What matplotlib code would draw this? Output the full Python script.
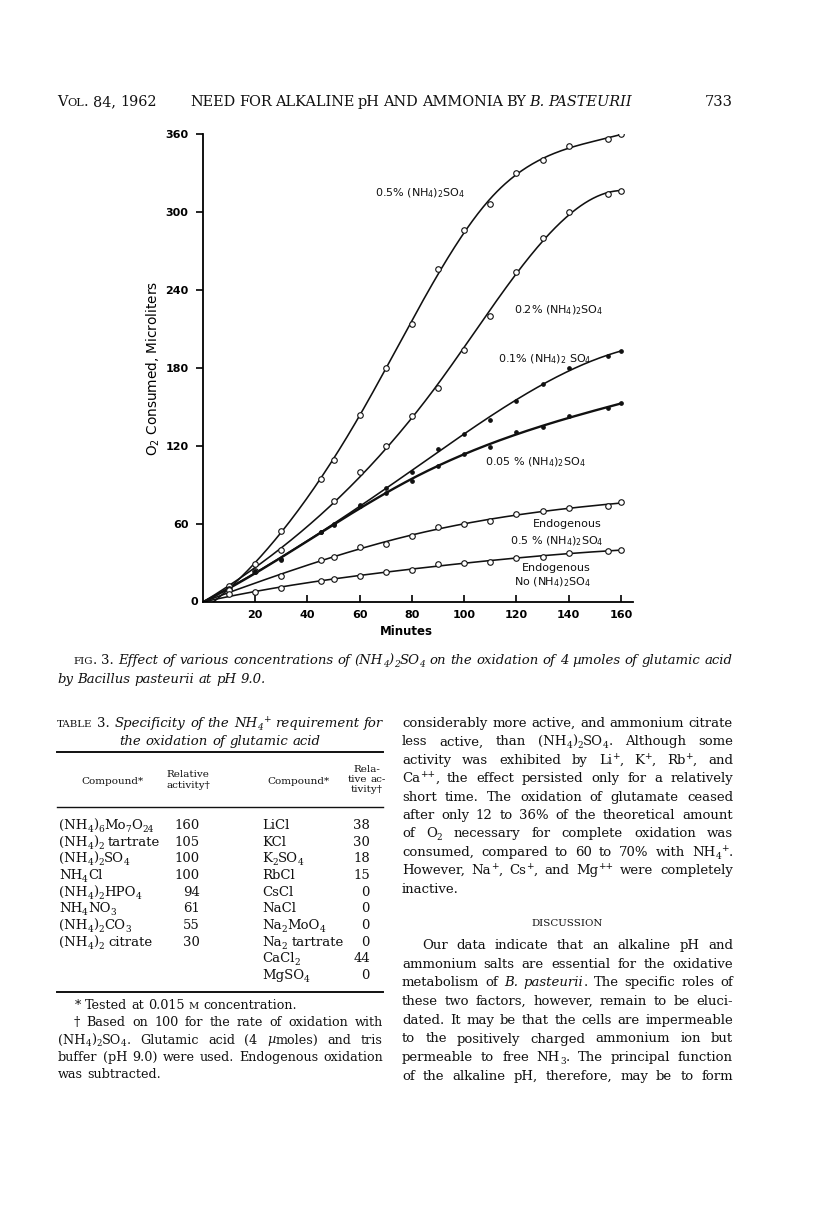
import numpy as np
import matplotlib
matplotlib.use("Agg")
import matplotlib.pyplot as plt
from matplotlib.lines import Line2D

W, H = 816, 1231
SERIF = "DejaVu Serif"
SANS = "DejaVu Sans"

# ---- Fig. 3: O2 consumed (microliters) against minutes ----
min_05 = [10, 20, 30, 45, 50, 60, 70, 80, 90, 100, 110, 120, 130, 140, 155, 160]
o2_05 = [12, 29, 55, 95, 109, 144, 180, 214, 256, 286, 306, 330, 340, 351, 356, 360]
min_02 = [10, 20, 30, 50, 60, 70, 80, 90, 100, 110, 120, 130, 140, 155, 160]
o2_02 = [10, 24, 40, 78, 100, 120, 143, 165, 194, 220, 254, 280, 300, 314, 316]
min_01 = [10, 20, 30, 45, 50, 60, 70, 80, 90, 100, 110, 120, 130, 140, 155, 160]
o2_01 = [10, 24, 33, 54, 60, 74, 88, 100, 118, 129, 140, 155, 168, 180, 189, 193]
min_005 = [10, 20, 30, 45, 50, 60, 70, 80, 90, 100, 110, 120, 130, 140, 155, 160]
o2_005 = [10, 23, 32, 54, 59, 75, 84, 93, 105, 114, 119, 131, 135, 143, 149, 153]
min_endo5 = [10, 30, 45, 50, 60, 70, 80, 90, 100, 110, 120, 130, 140, 155, 160]
o2_endo5 = [9, 20, 32, 35, 42, 45, 51, 58, 60, 62, 68, 70, 72, 74, 77]
min_endo0 = [10, 20, 30, 45, 50, 60, 70, 80, 90, 100, 110, 120, 130, 140, 155, 160]
o2_endo0 = [6, 8, 11, 16, 18, 20, 23, 25, 29, 30, 31, 34, 35, 38, 39, 40]
curve_start = [4, 0, 0, 0, 0, 0]   # minute where each drawn curve leaves the x axis

# ---- Table 3 ----
compounds_a = ["(NH_4)_6Mo_7O_2_4", "(NH_4)_2 tartrate", "(NH_4)_2SO_4", "NH_4Cl",
               "(NH_4)_2HPO_4", "NH_4NO_3", "(NH_4)_2CO_3", "(NH_4)_2 citrate"]
activity_a = [160, 105, 100, 100, 94, 61, 55, 30]
compounds_b = ["LiCl", "KCl", "K_2SO_4", "RbCl", "CsCl", "NaCl", "Na_2MoO_4",
               "Na_2 tartrate", "CaCl_2", "MgSO_4"]
activity_b = [38, 30, 18, 15, 0, 0, 0, 0, 44, 0]

# ---- page text ( ~ italic, ` small caps, _x subscript, ^x superscript ) ----
caption = ["`fig`. 3. ~Effect of various concentrations of (NH_4)_2SO_4 on the oxidation of 4 µmoles of glutamic acid~",
           "~by Bacillus pasteurii at pH 9.0.~"]
footnotes = ["* Tested at 0.015 `m` concentration.",
             "† Based on 100 for the rate of oxidation with",
             "(NH_4)_2SO_4. Glutamic acid (4 ~µ~moles) and tris",
             "buffer (pH 9.0) were used. Endogenous oxidation",
             "was subtracted."]
para1 = ["considerably more active, and ammonium citrate",
         "less active, than (NH_4)_2SO_4. Although some",
         "activity was exhibited by Li^+, K^+, Rb^+, and",
         "Ca^+^+, the effect persisted only for a relatively",
         "short time. The oxidation of glutamate ceased",
         "after only 12 to 36% of the theoretical amount",
         "of O_2 necessary for complete oxidation was",
         "consumed, compared to 60 to 70% with NH_4^+.",
         "However, Na^+, Cs^+, and Mg^+^+ were completely",
         "inactive."]
para2 = ["Our data indicate that an alkaline pH and",
         "ammonium salts are essential for the oxidative",
         "metabolism of ~B. pasteurii~. The specific roles of",
         "these two factors, however, remain to be eluci-",
         "dated. It may be that the cells are impermeable",
         "to the positively charged ammonium ion but",
         "permeable to free NH_3. The principal function",
         "of the alkaline pH, therefore, may be to form"]

fig = plt.figure(figsize=(W / 100, H / 100), dpi=100)
renderer = fig.canvas.get_renderer()


def parse(line):
    """Split marked-up line into words, each a list of [text, (ital, caps, pos)] runs."""
    chars, ital, caps, i = [], False, False, 0
    while i < len(line):
        c = line[i]
        if c == "~":
            ital = not ital
        elif c == "`":
            caps = not caps
        elif c in "_^":
            i += 1
            chars.append((line[i], ital, caps, "sub" if c == "_" else "sup"))
        else:
            chars.append((c, ital, caps, "n"))
        i += 1
    words, cur = [], []
    for ch in chars:
        if ch[0] == " ":
            if cur:
                words.append(cur)
            cur = []
        elif cur and cur[-1][1] == ch[1:]:
            cur[-1][0] += ch[0]
        else:
            cur.append([ch[0], ch[1:]])
    if cur:
        words.append(cur)
    return words


def props(key, size, family):
    ital, caps, pos = key
    s = size * (0.78 if caps else 1.0) * (0.68 if pos != "n" else 1.0)
    return dict(fontsize=s, family=family, fontstyle="italic" if ital else "normal")


def text_width(txt, pr):
    t = fig.text(0, 0, txt, **pr)
    w = t.get_window_extent(renderer).width
    t.remove()
    return w


def measure(words, size, family):
    wl = []
    for w in words:
        wl.append(sum(text_width(t.upper() if k[1] else t, props(k, size, family)) for t, k in w))
    plain = props((False, False, "n"), size, family)
    sp = text_width("x x", plain) - text_width("xx", plain)
    return wl, sp


def draw_line(line, x, y, size=9.5, family=SERIF, right=None, align="left"):
    """Draw a line at baseline y (pixels); justify it to `right` if given."""
    words = parse(line)
    wl, sp = measure(words, size, family)
    if right is not None and len(words) > 1:
        # shrink the type a little if the words do not fit with a fair space
        while (right - x - sum(wl)) / (len(words) - 1) < 0.7 * sp:
            size *= 0.985
            wl, sp = measure(words, size, family)
        sp = (right - x - sum(wl)) / (len(words) - 1)
    else:
        total = sum(wl) + sp * (len(words) - 1)
        if align == "center":
            x = x - total / 2
        elif align == "right":
            x = x - total
    pt = size * 100 / 72
    for w, ww in zip(words, wl):
        cx = x
        for t, k in w:
            pr = props(k, size, family)
            s = t.upper() if k[1] else t
            dy = {"n": 0, "sub": -0.22 * pt, "sup": 0.40 * pt}[k[2]]
            fig.text(cx / W, 1 - (y - dy) / H, s, va="baseline", ha="left", color="#111111", **pr)
            cx += text_width(s, pr)
        x += ww + sp


def hrule(x0, x1, y, lw):
    fig.add_artist(Line2D([x0 / W, x1 / W], [1 - y / H, 1 - y / H], lw=lw,
                          color="#111111", transform=fig.transFigure))


def smooth(xs, ys, wts, knots, xx):
    """Least-squares cubic regression spline, to draw the hand-faired curves."""
    def basis(x):
        x = np.asarray(x, float) / 160.0
        cols = [np.ones_like(x), x, x ** 2, x ** 3]
        cols += [np.clip(x - k / 160.0, 0, None) ** 3 for k in knots]
        return np.column_stack(cols)
    coef = np.linalg.lstsq(basis(xs) * wts[:, None], ys * wts, rcond=None)[0]
    return basis(xx) @ coef


# ---- running head ----
draw_line("V`ol`. 84, 1962", 57, 106, size=10.4)
draw_line("NEED FOR ALKALINE pH AND AMMONIA BY ~B. PASTEURII~", 190, 106, size=10.6, right=632)
draw_line("733", 733, 106, size=10.5, align="right")

# ---- chart ----
ax = fig.add_axes([203 / W, 1 - 602 / H, 430 / W, 468 / H])
series = [(min_05, o2_05, "o", [60, 110]), (min_02, o2_02, "o", [90]),
          (min_01, o2_01, ".", [80]), (min_005, o2_005, ".", [80]),
          (min_endo5, o2_endo5, "o", [80]), (min_endo0, o2_endo0, "o", [80])]
for (mx, vals, mk, knots), x0 in zip(series, curve_start):
    xs = np.array([x0] + mx, dtype=float)
    ys = np.array([0] + vals, dtype=float)
    wts = np.ones_like(xs)
    wts[0] = 6
    xx = np.linspace(x0, 160, 300)
    lw = 1.7 if vals is o2_005 else 1.15
    ax.plot(xx, smooth(xs, ys, wts, knots, xx), color="#111111", lw=lw, zorder=2)
    if mk == "o":
        ax.plot(mx, vals, "o", ms=4, mfc="white", mec="#111111", mew=0.8, zorder=3)
    else:
        ax.plot(mx, vals, "o", ms=2.4, mfc="#111111", mec="#111111", zorder=3)

ax.set_xlim(0, 164.6)
ax.set_ylim(0, 360)
ax.set_xticks([20, 40, 60, 80, 100, 120, 140, 160])
ax.set_yticks([60, 120, 180, 240, 300, 360])
for s in ["top", "right"]:
    ax.spines[s].set_visible(False)
for s in ["left", "bottom"]:
    ax.spines[s].set_linewidth(1.3)
ax.tick_params(axis="y", direction="out", length=5, width=1.2, pad=5.5)
ax.tick_params(axis="x", direction="in", length=5, width=1.2, pad=6)
for lab in ax.get_xticklabels() + ax.get_yticklabels():
    lab.set_fontfamily(SANS)
    lab.set_fontweight("bold")
    lab.set_fontsize(8)
ax.text(-1.9, 0, "0", ha="right", va="center", family=SANS, fontweight="bold", fontsize=8)
ax.set_xlabel("Minutes", family=SANS, fontweight="bold", fontsize=8.5)
ax.xaxis.set_label_coords(0.474, -0.05)
ax.set_ylabel("O$_2$ Consumed, Microliters", family=SANS, fontsize=9.8)
ax.yaxis.set_label_coords(-0.095, 0.5)
ax.patch.set_alpha(0)

curve_labels = [("0.5% (NH$_4$)$_2$SO$_4$", 66, 316, "left"),
                ("0.2% (NH$_4$)$_2$SO$_4$", 119, 226, "left"),
                ("0.1% (NH$_4$)$_2$ SO$_4$", 113, 188, "left"),
                ("0.05 % (NH$_4$)$_2$SO$_4$", 108, 109, "left"),
                ("Endogenous", 139.5, 61, "center"),
                ("0.5 % (NH$_4$)$_2$SO$_4$", 135.6, 48.5, "center"),
                ("Endogenous", 135.4, 27, "center"),
                ("No (NH$_4$)$_2$SO$_4$", 133.6, 17, "center")]
for txt, lx, ly, ha in curve_labels:
    ax.text(lx, ly, txt, ha=ha, va="center_baseline", family=SANS, fontsize=8, color="#111111")

# ---- figure legend ----
draw_line(caption[0], 73, 664, right=733)
draw_line(caption[1], 57, 683)

# ---- Table 3 ----
draw_line("`table` 3. ~Specificity of the NH_4^+ requirement for~", 57, 727, right=383)
draw_line("~the oxidation of glutamic acid~", 220, 745, align="center")
hrule(57, 383, 752, 1.4)
draw_line("Compound*", 112, 784, size=7.5, align="center")
draw_line("Relative", 188, 777, size=7.5, align="center")
draw_line("activity†", 188, 788, size=7.5, align="center")
draw_line("Compound*", 298, 784, size=7.5, align="center")
draw_line("Rela-", 367, 772, size=7.5, align="center")
draw_line("tive ac-", 367, 782, size=7.5, align="center")
draw_line("tivity†", 367, 792, size=7.5, align="center")
hrule(57, 383, 807, 1.0)
for i, (c, a) in enumerate(zip(compounds_a, activity_a)):
    draw_line(c, 59, 829 + 16.67 * i)
    draw_line(str(a), 200, 829 + 16.67 * i, align="right")
for i, (c, a) in enumerate(zip(compounds_b, activity_b)):
    draw_line(c, 262, 829 + 16.67 * i)
    draw_line(str(a), 370, 829 + 16.67 * i, align="right")
hrule(57, 383, 992, 1.4)

draw_line(footnotes[0], 75, 1009, size=9.2)
draw_line(footnotes[1], 74, 1026, size=9.2, right=383)
draw_line(footnotes[2], 58, 1043.5, size=9.2, right=383)
draw_line(footnotes[3], 58, 1061, size=9.2, right=383)
draw_line(footnotes[4], 58, 1078.5, size=9.2)

# ---- right column ----
for i, line in enumerate(para1):
    last = i == len(para1) - 1
    draw_line(line, 402, 727 + 18.4 * i, right=None if last else 733)
draw_line("`discussion`", 567, 926, align="center")
for i, line in enumerate(para2):
    x0 = 422 if i == 0 else 402
    draw_line(line, x0, 949 + 18.7 * i, right=733)

fig.savefig("out.png", dpi=100, facecolor="white")
